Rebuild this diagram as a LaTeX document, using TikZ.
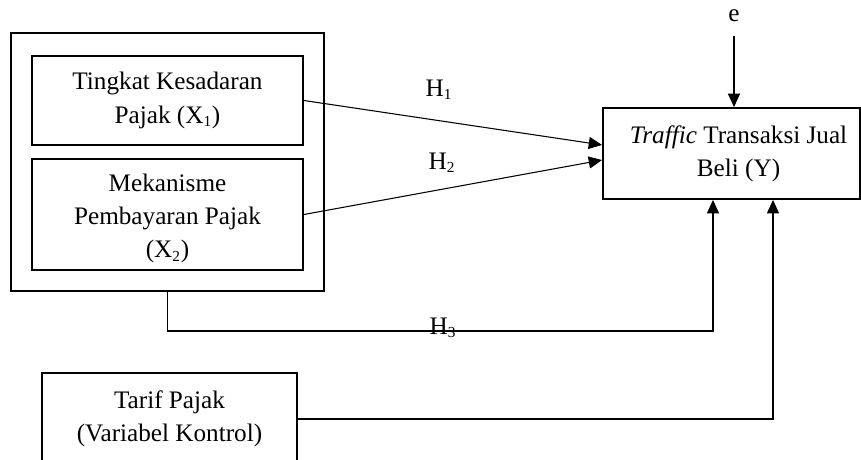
\documentclass[tikz,border=0pt]{standalone}
\usepackage{fontspec}
\setmainfont{Liberation Serif}
\usetikzlibrary{arrows.meta}

\newcommand{\subidx}[1]{\textsubscript{\fontsize{11.5pt}{12pt}\selectfont #1}}

\tikzset{
	varbox/.style={draw, line width=1.4pt, align=center, inner sep=0pt},
	arr/.style={line width=0.8pt, -{Triangle[length=10pt,width=9pt]}},
	link/.style={line width=0.8pt}
}

\begin{document}
\begin{tikzpicture}[x=0.75pt, y=-0.75pt, font=\fontsize{18.9pt}{25pt}\selectfont]
		\useasboundingbox (0,0) rectangle (861,460);
		\clip (0,0) rectangle (861,460);
		% variabel X
		\node[varbox, minimum width=234.75pt, minimum height=193.5pt] (outer) at (167.5,162) {};
		\node[varbox, minimum width=203.25pt, minimum height=66.75pt] (x1) at (167.5,100.5) {Tingkat Kesadaran\\Pajak (X\subidx{1})};
		\node[varbox, minimum width=203.25pt, minimum height=83.25pt] (x2) at (167.5,214.5) {\rule{0pt}{19pt}Mekanisme\\Pembayaran Pajak\\(X\subidx{2})};
		% variabel Y dan kontrol
		\node[varbox, minimum width=192.75pt, minimum height=68.25pt] (y) at (731.5,153.5) {\hspace*{10.5pt}\textit{Traffic} Transaksi Jual\\\hspace*{10.5pt}Beli (Y)};
		\node[varbox, minimum width=191.25pt, minimum height=69pt] (tarif) at (169.5,419) {Tarif Pajak\\(Variabel Kontrol)};
		\node (e) at (734,16) {e};
		\coordinate (j3) at (713,331);
		\coordinate (j4) at (773,419);
		% hipotesis
		\node (h1) at (439,90) {H\subidx{1}};
		\node (h2) at (442,163) {H\subidx{2}};
		\node (h3) at (443,328) {H\subidx{3}};
		\draw[arr] (x1.east) -- ([yshift=6.4pt]y.west);
		\draw[arr] (x2.east) -- ([yshift=-4.9pt]y.west);
		\draw[arr] (outer.south) |- (j3) -- (j3 |- y.south);
		\draw[arr] (tarif.east |- j4) -- (j4) -- (j4 |- y.south);
		\draw[arr] ([yshift=-7pt]e.south) -- (e.south |- y.north);
	\end{tikzpicture}
\end{document}
